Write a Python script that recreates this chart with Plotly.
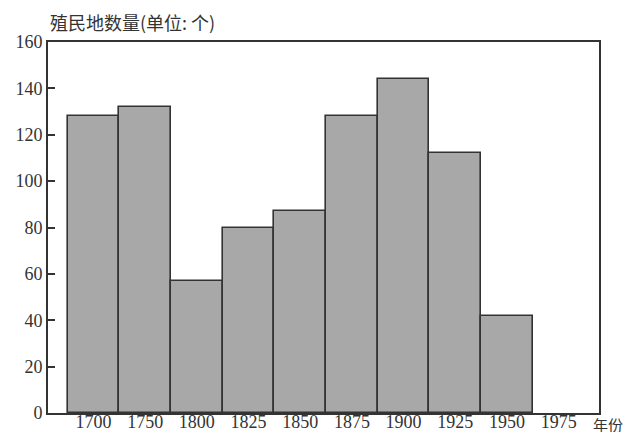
import plotly.graph_objects as go

years = ["1700", "1750", "1800", "1825", "1850", "1875", "1900", "1925", "1950", "1975"]
colonies = [128, 132, 57, 80, 87, 128, 144, 112, 42, None]
y_ticks = [0, 20, 40, 60, 80, 100, 120, 140, 160]

pos = list(range(len(years)))
x_range = [-0.88, 9.78]

fig = go.Figure()
fig.add_trace(go.Bar(
    x=pos, y=colonies, width=1.0,
    marker=dict(color="#a8a8a8", line=dict(color="#333333", width=1.6)),
    showlegend=False,
))
# invisible helper trace on a second x axis that carries the year labels
fig.add_trace(go.Scatter(
    x=pos, y=[0] * len(pos), xaxis="x2", mode="markers",
    marker=dict(opacity=0), hoverinfo="skip", showlegend=False,
))

tick_font = dict(family="Liberation Serif", size=18, color="#333333")

# page body has an 8px default margin, so the figure is 8px smaller
fig.update_layout(
    width=624, height=424,
    margin=dict(l=40, r=33, t=34, b=19, autoexpand=False),
    paper_bgcolor="white", plot_bgcolor="white",
    font=dict(family="Liberation Serif", size=18, color="#333333"),
    bargap=0,
    xaxis=dict(
        range=x_range, tickmode="array", tickvals=pos, showticklabels=False,
        showline=True, linecolor="#333333", linewidth=2, mirror=True,
        ticks="", showgrid=False, zeroline=False, automargin=False,
    ),
    xaxis2=dict(
        range=x_range, tickmode="array", tickvals=pos, ticktext=years,
        overlaying="x", anchor="free", position=0.012, side="bottom",
        showline=False, ticks="", showgrid=False, zeroline=False,
        automargin=False, tickfont=tick_font,
    ),
    yaxis=dict(
        range=[0, 160], tickmode="array", tickvals=y_ticks,
        showline=True, linecolor="#333333", linewidth=2, mirror=True,
        ticks="inside", ticklen=7, tickwidth=1.5, tickcolor="#333333",
        showgrid=False, zeroline=False, automargin=False,
        tickfont=tick_font,
    ),
    annotations=[
        dict(text="殖民地数量(单位: 个)", xref="paper", yref="paper",
             x=0.0, y=1.0, yshift=5, xanchor="left", yanchor="bottom",
             showarrow=False,
             font=dict(family="Noto Sans CJK SC", size=18, color="#333333")),
        dict(text="年份", xref="paper", yref="paper",
             x=1.0, y=0, xshift=-8, yshift=-11, xanchor="left", yanchor="middle",
             showarrow=False,
             font=dict(family="Noto Sans CJK SC", size=15, color="#333333")),
    ],
)

fig.write_html("out.html")
